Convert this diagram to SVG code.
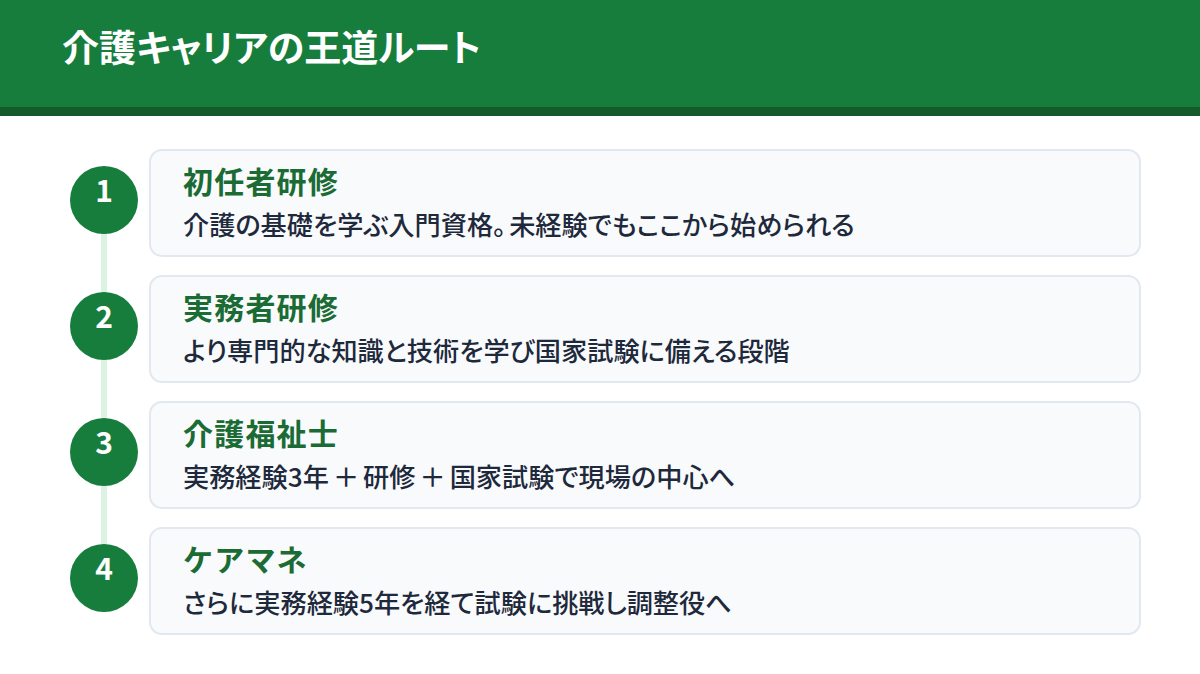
<svg xmlns="http://www.w3.org/2000/svg" width="1200" height="674" viewBox="0 0 1200 674">
<style>
.card{fill:#f8fafc;stroke:#e2e8f0;stroke-width:2}
.dot{fill:#177d3d}
.num{font-family:"Noto Sans CJK JP","Noto Sans",sans-serif;font-weight:700;font-size:30px;fill:#ffffff;text-anchor:middle}
.ttl{font-family:"Noto Sans CJK JP",sans-serif;font-weight:700;font-size:30px;fill:#1b6b34;letter-spacing:1.2px}
.dsc{font-family:"Noto Sans CJK JP",sans-serif;font-weight:500;font-size:26.2px;fill:#1e293b;font-feature-settings:"palt"}
.head{font-family:"Noto Sans CJK JP",sans-serif;font-weight:700;font-size:37px;fill:#ffffff;font-feature-settings:"palt"}
</style>
<rect x="0" y="0" width="1200" height="674" fill="#ffffff"/>
<g id="header">
<rect x="0" y="0" width="1200" height="107" fill="#177d3d"/>
<rect x="0" y="107" width="1200" height="9" fill="#155a2b"/>
<text class="head" x="62" y="62">介護キャリアの王道ルート</text>
</g>
<g id="connectors">
<rect x="101" y="200" width="6" height="378" fill="#dcf2e3"/>
</g>
<g id="step1">
<rect class="card" x="150" y="150" width="990" height="106" rx="12"/>
<circle class="dot" cx="104" cy="200" r="34"/>
<text class="num" x="104" y="202">1</text>
<text class="ttl" x="183" y="193">初任者研修</text>
<text class="dsc" x="183" y="235">介護の基礎を学ぶ入門資格。<tspan dx="3">未経験でもここから始められる</tspan></text>
</g>
<g id="step2">
<rect class="card" x="150" y="276" width="990" height="106" rx="12"/>
<circle class="dot" cx="104" cy="326" r="34"/>
<text class="num" x="104" y="328">2</text>
<text class="ttl" x="183" y="319">実務者研修</text>
<text class="dsc" x="183" y="361">より専門的な知識と技術を学び国家試験に備える段階</text>
</g>
<g id="step3">
<rect class="card" x="150" y="402" width="990" height="106" rx="12"/>
<circle class="dot" cx="104" cy="452" r="34"/>
<text class="num" x="104" y="454">3</text>
<text class="ttl" x="183" y="445">介護福祉士</text>
<text class="dsc" x="183" y="487">実務経験3年<tspan dx="4">＋</tspan><tspan dx="4">研修</tspan><tspan dx="4">＋</tspan><tspan dx="4">国家試験で現場の中心へ</tspan></text>
</g>
<g id="step4">
<rect class="card" x="150" y="528" width="990" height="106" rx="12"/>
<circle class="dot" cx="104" cy="578" r="34"/>
<text class="num" x="104" y="580">4</text>
<text class="ttl" x="183" y="571">ケアマネ</text>
<text class="dsc" x="183" y="613">さらに実務経験5年を経て試験に挑戦し調整役へ</text>
</g>
</svg>
